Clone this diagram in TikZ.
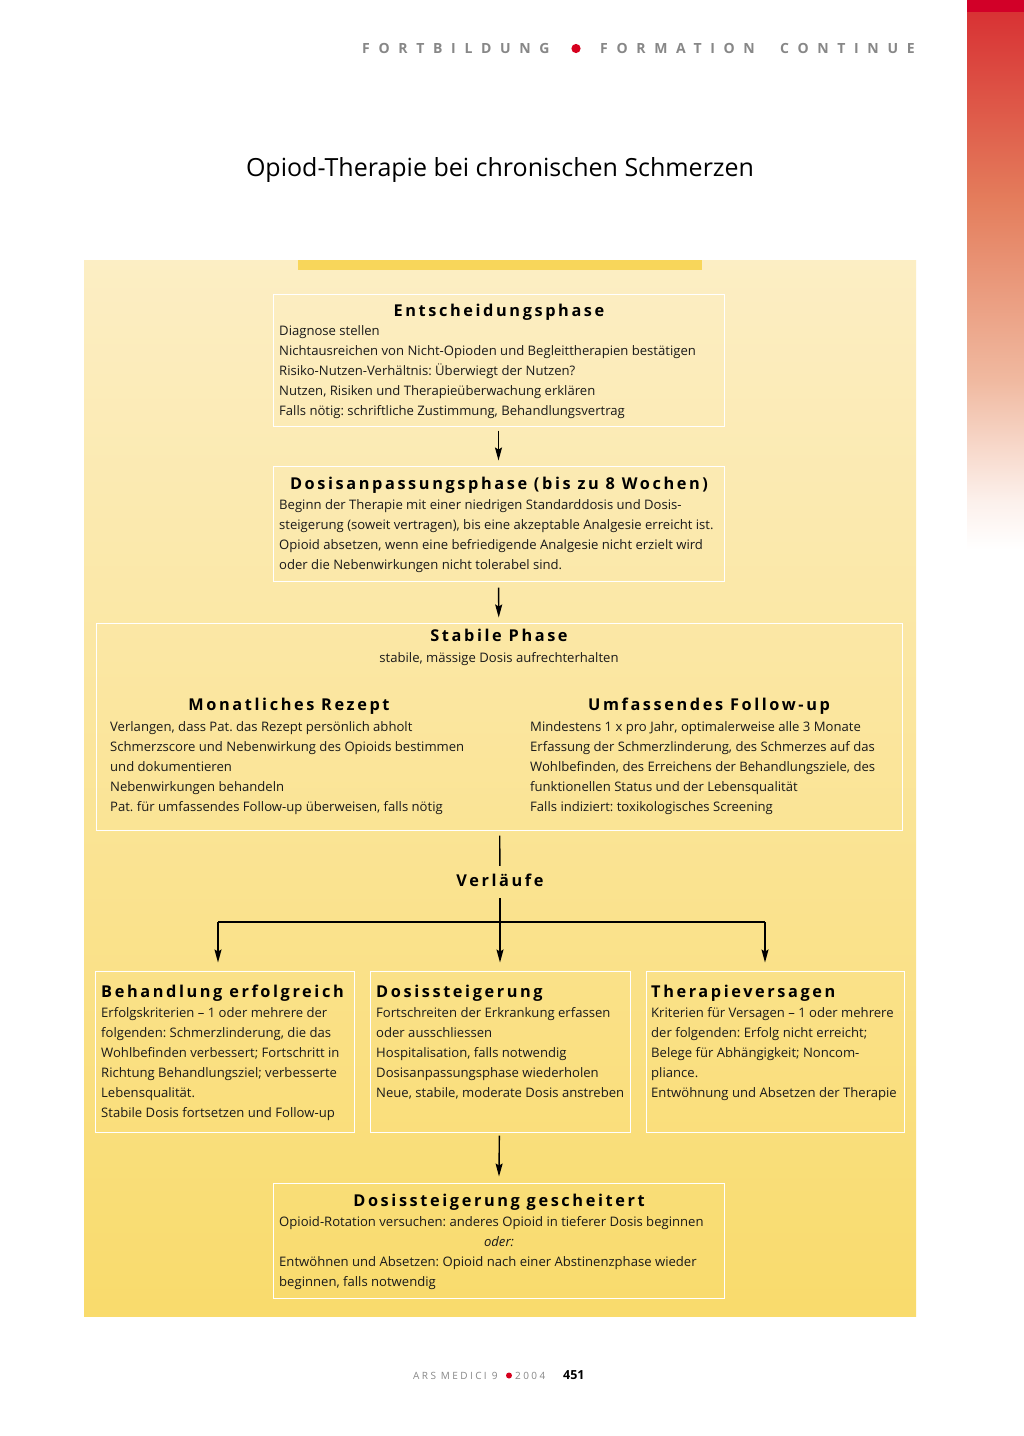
\documentclass[tikz,border=0pt]{standalone}
\usepackage{fontspec}
\setmainfont{Open Sans}
\newfontfamily\hfont[LetterSpace=16]{Open Sans}
\newfontfamily\spfont[LetterSpace=62]{Open Sans}
\newfontfamily\ftfont[LetterSpace=24]{Open Sans}
\newfontfamily\ftfontb[LetterSpace=24]{Open Sans}
\usetikzlibrary{arrows.meta}
\frenchspacing

\definecolor{bgtop}{RGB}{252,238,196}
\definecolor{bgbot}{RGB}{249,219,108}
\definecolor{barcol}{RGB}{248,214,90}
\definecolor{hgray}{RGB}{135,135,135}
\definecolor{dotred}{RGB}{214,0,30}
\definecolor{txt}{RGB}{25,25,25}
\definecolor{stripA}{RGB}{210,0,40}
\definecolor{stripB}{RGB}{216,50,52}
\definecolor{stripC}{RGB}{228,125,92}
\definecolor{stripD}{RGB}{240,185,160}
\definecolor{stripE}{RGB}{252,240,235}

\tikzset{
  box/.style={draw=white, line width=1pt, rectangle, inner sep=0pt},
  body/.style={anchor=north west, inner sep=0pt, align=left, text=txt, font=\fontsize{13.1}{20}\selectfont},
  head/.style={anchor=base, inner sep=0pt, text=black, font=\hfont\bfseries\fontsize{16.3}{20}\selectfont},
  headl/.style={head, anchor=base west},
  arr/.style={line width=1.4pt, -{Stealth[length=13pt,width=7pt,inset=2pt]}},
  conn/.style={line width=1.4pt},
  toptxt/.style={anchor=base west, inner sep=0pt, text=hgray, font=\spfont\bfseries\fontsize{14}{16}\selectfont},
}

\begin{document}
\begin{tikzpicture}[x=1pt,y=-1pt]
\useasboundingbox (0,0) rectangle (1024,1436);
\fill[white] (0,0) rectangle (1024,1436);

% right strip
\fill[stripA] (967,0) rectangle (1024,12);
\shade[top color=stripB, bottom color=stripC] (967,12) rectangle (1024,200);
\shade[top color=stripC, bottom color=stripD] (967,200) rectangle (1024,380);
\shade[top color=stripD, bottom color=stripE] (967,380) rectangle (1024,500);
\shade[top color=stripE, bottom color=white] (967,500) rectangle (1024,550);

% header
\node[toptxt] (h1) at (362,53) {FORTBILDUNG};
\fill[dotred] (576,48.5) circle (4.6);
\node[toptxt] (h2) at (600,53) {FORMATION};
\node[toptxt] (h3) at (780,53) {CONTINUE};

% title
\node[anchor=base, inner sep=0pt, text=black, font=\fontsize{25}{30}\selectfont] (title) at (500,176) {Opiod-Therapie bei chronischen Schmerzen};

% background panel
\shade[top color=bgtop, bottom color=bgbot] (84,260) rectangle (916,1316);
\fill[barcol] (298,260) rectangle (702,270);

% boxes
\node[box, minimum width=451pt, minimum height=132pt] (b1) at (498.5,360) {};
\node[box, minimum width=451pt, minimum height=115pt] (b2) at (498.5,523.5) {};
\node[box, minimum width=806pt, minimum height=207pt] (b3) at (499,726.5) {};
\node[box, minimum width=259pt, minimum height=161pt] (bA) at (224.5,1051.5) {};
\node[box, minimum width=260pt, minimum height=161pt] (bB) at (500,1051.5) {};
\node[box, minimum width=258pt, minimum height=161pt] (bC) at (775,1051.5) {};
\node[box, minimum width=451pt, minimum height=115pt] (b5) at (498.5,1240.5) {};

% box 1
\node[head] (t1) at (499,316) {Entscheidungsphase};
\node[body] (x1) at (279,322) {\rule{0pt}{13pt}Diagnose stellen\\
Nichtausreichen von Nicht-Opioden und Begleittherapien bestätigen\\
Risiko-Nutzen-Verhältnis: Überwiegt der Nutzen?\\
Nutzen, Risiken und Therapieüberwachung erklären\\
Falls nötig: schriftliche Zustimmung, Behandlungsvertrag};

% box 2
\node[head] (t2) at (499,489) {Dosisanpassungsphase (bis zu 8 Wochen)};
\node[body] (x2) at (279,496) {\rule{0pt}{13pt}Beginn der Therapie mit einer niedrigen Standarddosis und Dosis-\\
steigerung (soweit vertragen), bis eine akzeptable Analgesie erreicht ist.\\
Opioid absetzen, wenn eine befriedigende Analgesie nicht erzielt wird\\
oder die Nebenwirkungen nicht tolerabel sind.};

% box 3
\node[head] (t3) at (499,641) {Stabile Phase};
\node[anchor=base, inner sep=0pt, text=txt, font=\fontsize{13.1}{20}\selectfont] (s3) at (499,662) {stabile, mässige Dosis aufrechterhalten};
\node[head] (t3a) at (289,710) {Monatliches Rezept};
\node[body] (x3a) at (110,718) {\rule{0pt}{13pt}Verlangen, dass Pat. das Rezept persönlich abholt\\
Schmerzscore und Nebenwirkung des Opioids bestimmen\\
und dokumentieren\\
Nebenwirkungen behandeln\\
Pat. für umfassendes Follow-up überweisen, falls nötig};
\node[head] (t3b) at (709,710) {Umfassendes Follow-up};
\node[body] (x3b) at (530,718) {\rule{0pt}{13pt}Mindestens 1 x pro Jahr, optimalerweise alle 3 Monate\\
Erfassung der Schmerzlinderung, des Schmerzes auf das\\
Wohlbefinden, des Erreichens der Behandlungsziele, des\\
funktionellen Status und der Lebensqualität\\
Falls indiziert: toxikologisches Screening};

% Verlaeufe
\node[head, anchor=center, minimum height=28pt, text height=12pt, text depth=0pt] (verl) at (500,880) {Verläufe};

% three outcome boxes
\node[headl] (tA) at (101,997) {Behandlung erfolgreich};
\node[body] (xA) at (101,1004) {\rule{0pt}{13pt}Erfolgskriterien – 1 oder mehrere der\\
folgenden: Schmerzlinderung, die das\\
Wohlbefinden verbessert; Fortschritt in\\
Richtung Behandlungsziel; verbesserte\\
Lebensqualität.\\
Stabile Dosis fortsetzen und Follow-up};
\node[headl] (tB) at (376,997) {Dosissteigerung};
\node[body] (xB) at (376,1004) {\rule{0pt}{13pt}Fortschreiten der Erkrankung erfassen\\
oder ausschliessen\\
Hospitalisation, falls notwendig\\
Dosisanpassungsphase wiederholen\\
Neue, stabile, moderate Dosis anstreben};
\node[headl] (tC) at (651,997) {Therapieversagen};
\node[body] (xC) at (651,1004) {\rule{0pt}{13pt}Kriterien für Versagen – 1 oder mehrere\\
der folgenden: Erfolg nicht erreicht;\\
Belege für Abhängigkeit; Noncom-\\
pliance.\\
Entwöhnung und Absetzen der Therapie};

% box 5
\node[head] (t5) at (499,1206) {Dosissteigerung gescheitert};
\node[body] (x5a) at (279,1213) {\rule{0pt}{13pt}Opioid-Rotation versuchen: anderes Opioid in tieferer Dosis beginnen};
\node[anchor=base, inner sep=0pt, text=txt, font=\itshape\fontsize{13.1}{20}\selectfont] (x5o) at (499,1246) {oder:};
\node[body] (x5b) at (279,1253) {\rule{0pt}{13pt}Entwöhnen und Absetzen: Opioid nach einer Abstinenzphase wieder\\
beginnen, falls notwendig};

% connectors
\draw[arr, shorten <=4pt, shorten >=5pt] (b1) -- (b2);
\draw[arr, shorten <=6pt, shorten >=5pt] (b2) -- (b3);
\draw[conn, shorten <=5pt] (b3) -- (verl);
\draw[arr, shorten <=4pt, shorten >=8pt] (verl) -- (bB);
\coordinate (jA) at (218,922);
\coordinate (jC) at (765,922);
\draw[conn] (jA) -- (jC);
\draw[arr, shorten >=8pt] (jA) -- (jA |- bA.north);
\draw[arr, shorten >=8pt] (jC) -- (jC |- bC.north);
\draw[arr, shorten <=3pt, shorten >=6pt] (bB) -- (b5);

% footer
\node[anchor=base west, inner sep=0pt, text=hgray, font=\ftfont\fontsize{10}{12}\selectfont] (f1) at (413,1379) {ARS MEDICI 9};
\fill[dotred] (509,1375.5) circle (3);
\node[anchor=base west, inner sep=0pt, text=hgray, font=\ftfontb\fontsize{10}{12}\selectfont] (f2) at (515,1379) {2004};
\node[anchor=base west, inner sep=0pt, text=black, font=\bfseries\fontsize{12.5}{12}\selectfont] (f3) at (563,1379) {451};
\end{tikzpicture}
\end{document}
